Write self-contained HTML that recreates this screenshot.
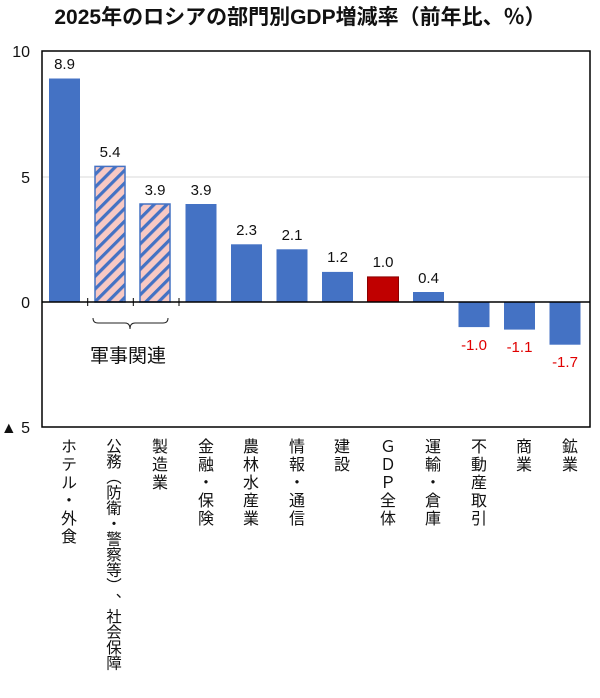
<!DOCTYPE html>
<html><head><meta charset="utf-8"><style>
body{margin:0;width:600px;height:691px;background:#fff;overflow:hidden;font-family:"Liberation Sans","Noto Sans CJK JP",sans-serif}
.v{position:absolute;top:438px;writing-mode:vertical-rl;font-size:16px;letter-spacing:2px;color:#111;width:22px;height:260px;white-space:nowrap;line-height:22px}
</style></head><body>
<svg width="600" height="691" style="position:absolute;left:0;top:0" font-family="Liberation Sans, Noto Sans CJK JP, sans-serif">
<defs><pattern id="h" patternUnits="userSpaceOnUse" width="9" height="9" patternTransform="rotate(-45)">
<rect width="9" height="9" fill="#f8c9c4"/><rect width="9" height="3.2" fill="#4472c4"/></pattern></defs>
<text x="300" y="24" text-anchor="middle" font-size="21" font-weight="bold" fill="#111">2025年のロシアの部門別GDP増減率（前年比、％）</text>
<line x1="42" y1="177" x2="590" y2="177" stroke="#d9d9d9" stroke-width="1"/>
<rect x="42" y="51" width="548" height="376" fill="none" stroke="#000" stroke-width="1.5"/>
<g font-size="16" fill="#111" text-anchor="end">
<text x="30" y="57">10</text><text x="30" y="183">5</text><text x="30" y="308">0</text><text x="30" y="433">▲ 5</text></g>
<rect x="49" y="78.5" width="31" height="223.5" fill="#4472c4"/>
<rect x="95" y="166.4" width="30" height="135.6" fill="url(#h)" stroke="#4472c4" stroke-width="1.5"/>
<rect x="140" y="204" width="30" height="98" fill="url(#h)" stroke="#4472c4" stroke-width="1.5"/>
<rect x="185.5" y="204" width="31" height="98" fill="#4472c4"/>
<rect x="231" y="244.3" width="31" height="57.7" fill="#4472c4"/>
<rect x="276.5" y="249.3" width="31" height="52.7" fill="#4472c4"/>
<rect x="322" y="271.9" width="31" height="30.1" fill="#4472c4"/>
<rect x="367.5" y="276.9" width="31" height="25.1" fill="#c00000" stroke="#8b0000" stroke-width="1"/>
<rect x="413" y="292" width="31" height="10" fill="#4472c4"/>
<rect x="458.5" y="302" width="31" height="25.1" fill="#4472c4"/>
<rect x="504" y="302" width="31" height="27.6" fill="#4472c4"/>
<rect x="549.5" y="302" width="31" height="42.7" fill="#4472c4"/>
<line x1="42" y1="302" x2="590" y2="302" stroke="#000" stroke-width="1.5"/>
<g stroke="#000" stroke-width="1">
<line x1="87.7" y1="298" x2="87.7" y2="306"/><line x1="133.3" y1="298" x2="133.3" y2="306"/><line x1="179" y1="298" x2="179" y2="306"/></g>
<g font-size="15" fill="#111" text-anchor="middle">
<text x="64.5" y="69">8.9</text><text x="110" y="157">5.4</text><text x="155" y="195">3.9</text><text x="201" y="195">3.9</text>
<text x="246.5" y="235">2.3</text><text x="292" y="240">2.1</text><text x="337.5" y="262">1.2</text><text x="383" y="267">1.0</text><text x="428.5" y="283">0.4</text></g>
<g font-size="15" fill="#e00000" text-anchor="middle">
<text x="474" y="350">-1.0</text><text x="519.5" y="352">-1.1</text><text x="565" y="367">-1.7</text></g>
<path d="M93 318 Q93 323 98 323 L125 323 Q130 323 130 329 Q130 323 135 323 L163 323 Q168 323 168 318" fill="none" stroke="#222" stroke-width="1"/>
<text x="128" y="362" font-size="19" text-anchor="middle" fill="#111">軍事関連</text>
</svg>
<div class="v" style="left:55px">ホテル・外食</div>
<div class="v" style="left:101px;letter-spacing:0px;font-size:15.5px">公務︵防衛・警察等︶、社会保障</div>
<div class="v" style="left:146px">製造業</div>
<div class="v" style="left:192px">金融・保険</div>
<div class="v" style="left:237px">農林水産業</div>
<div class="v" style="left:283px">情報・通信</div>
<div class="v" style="left:328px">建設</div>
<div class="v" style="left:374px">ＧＤＰ全体</div>
<div class="v" style="left:419px">運輸・倉庫</div>
<div class="v" style="left:465px">不動産取引</div>
<div class="v" style="left:510px">商業</div>
<div class="v" style="left:556px">鉱業</div>
</body></html>
